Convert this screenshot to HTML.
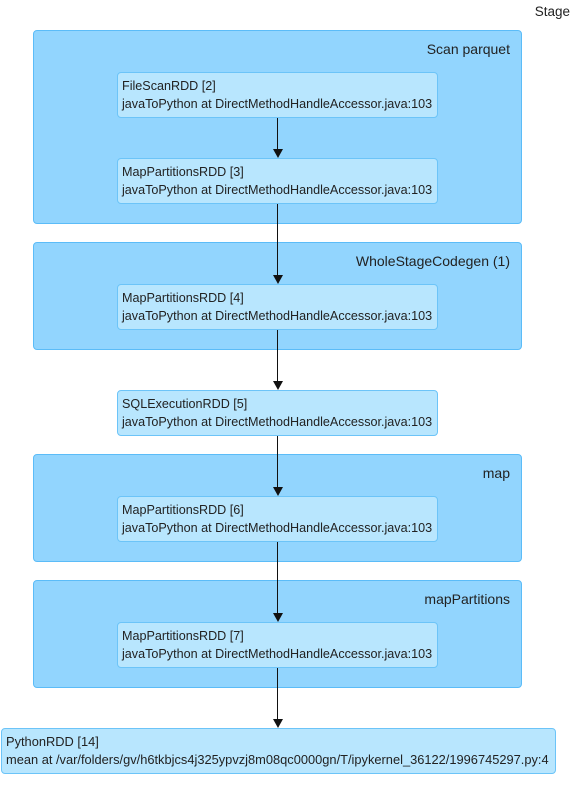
<!DOCTYPE html>
<html><head><style>
body{margin:0;width:572px;height:786px;background:#fff;position:relative;font-family:"Liberation Sans",sans-serif;color:#222;overflow:hidden}
.c{position:absolute;left:33px;width:487px;background:#92d5fe;border:1px solid #5bbcf8;border-radius:4px}
.cl{position:absolute;right:11px;top:10px;font-size:14px}
.n{position:absolute;background:#b8e6fe;border:1px solid #6cc4f8;border-radius:4px;font-size:12.6px;line-height:18px;padding:4px 0 0 4px;box-sizing:border-box;white-space:nowrap}
.a{position:absolute;left:276.5px;width:1.5px;background:#111}
.h{position:absolute;left:272.5px;width:0;height:0;border-left:5px solid transparent;border-right:5px solid transparent;border-top:9px solid #111}
</style></head><body>
<div style="position:absolute;right:2px;top:4px;font-size:13.5px">Stage</div>
<div class="c" style="top:30px;height:192px"><div class="cl">Scan parquet</div></div>
<div class="c" style="top:242px;height:106px"><div class="cl">WholeStageCodegen (1)</div></div>
<div class="c" style="top:454px;height:106px"><div class="cl">map</div></div>
<div class="c" style="top:580px;height:106px"><div class="cl">mapPartitions</div></div>
<div class="n" style="left:117px;top:72px;width:321px;height:46px">FileScanRDD [2]<br>javaToPython at DirectMethodHandleAccessor.java:103</div>
<div class="n" style="left:117px;top:158px;width:321px;height:46px">MapPartitionsRDD [3]<br>javaToPython at DirectMethodHandleAccessor.java:103</div>
<div class="n" style="left:117px;top:284px;width:321px;height:46px">MapPartitionsRDD [4]<br>javaToPython at DirectMethodHandleAccessor.java:103</div>
<div class="n" style="left:117px;top:390px;width:321px;height:46px">SQLExecutionRDD [5]<br>javaToPython at DirectMethodHandleAccessor.java:103</div>
<div class="n" style="left:117px;top:496px;width:321px;height:46px">MapPartitionsRDD [6]<br>javaToPython at DirectMethodHandleAccessor.java:103</div>
<div class="n" style="left:117px;top:622px;width:321px;height:46px">MapPartitionsRDD [7]<br>javaToPython at DirectMethodHandleAccessor.java:103</div>
<div class="n" style="left:1px;top:728px;width:555px;height:46px;font-size:12.85px">PythonRDD [14]<br>mean at /var/folders/gv/h6tkbjcs4j325ypvzj8m08qc0000gn/T/ipykernel_36122/1996745297.py:4</div>
<div class="a" style="top:118px;height:32px"></div><div class="h" style="top:149px"></div>
<div class="a" style="top:204px;height:72px"></div><div class="h" style="top:275px"></div>
<div class="a" style="top:330px;height:52px"></div><div class="h" style="top:381px"></div>
<div class="a" style="top:436px;height:52px"></div><div class="h" style="top:487px"></div>
<div class="a" style="top:542px;height:72px"></div><div class="h" style="top:613px"></div>
<div class="a" style="top:668px;height:52px"></div><div class="h" style="top:719px"></div>
</body></html>
